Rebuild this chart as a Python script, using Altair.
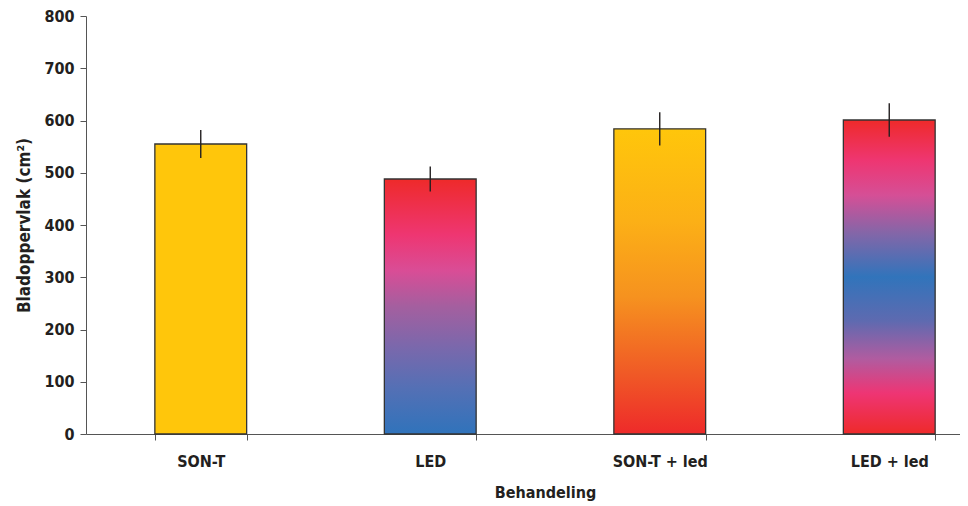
import altair as alt
import pandas as pd

categories = ["SON-T", "LED", "SON-T + led", "LED + led"]
means = [555, 488, 584, 601]
errors = [27, 24, 32, 32]

df = pd.DataFrame({
    "cat": categories,
    "mean": means,
    "lo": [m - e for m, e in zip(means, errors)],
    "hi": [m + e for m, e in zip(means, errors)],
})

FONT = "Liberation Sans Narrow, DejaVu Sans Condensed, Liberation Sans, sans-serif"

def grad(stops):
    return alt.Gradient(
        gradient="linear", x1=0, y1=0, x2=0, y2=1,
        stops=[alt.GradientStop(offset=o, color=c) for o, c in stops],
    )

fills = {
    "SON-T": grad([(0, "#FFC60B"), (1, "#FFC60B")]),
    "LED": grad([(0, "#EE2A2A"), (0.22, "#EE3672"), (0.36, "#D94D96"),
                 (0.5, "#A45F9F"), (0.66, "#7A68AC"), (0.82, "#5470B5"),
                 (1, "#3073BB")]),
    "SON-T + led": grad([(0, "#FFC60B"), (0.3, "#FCB016"), (0.55, "#F6921F"),
                         (0.8, "#F05A26"), (1, "#EE2A2A")]),
    "LED + led": grad([(0, "#EE2A2A"), (0.13, "#EE3672"), (0.24, "#D54F96"),
                       (0.36, "#8466A8"), (0.5, "#3174BB"), (0.64, "#5E6AB0"),
                       (0.76, "#B05CA0"), (0.87, "#EE3574"), (1, "#EE2A2A")]),
}

x = alt.X(
    "cat:N", sort=categories,
    scale=alt.Scale(domain=categories, range=[0, 918], paddingInner=0.6, paddingOuter=0.3),
    axis=alt.Axis(title="Behandeling", labelAngle=0, tickBand="extent", tickSize=6,
                  labelPadding=13, titlePadding=15, domainColor="#555", tickColor="#555",
                  labelFont=FONT, titleFont=FONT, labelFontSize=16, titleFontSize=16,
                  labelFontWeight="bold", titleFontWeight="bold",
                  labelColor="#231F20", titleColor="#231F20"),
)
y = alt.Y(
    "mean:Q",
    scale=alt.Scale(domain=[0, 800], nice=False),
    axis=alt.Axis(title="Bladoppervlak (cm²)", values=list(range(0, 801, 100)), grid=False,
                  tickSize=6, labelPadding=6, titlePadding=10,
                  domainColor="#555", tickColor="#555",
                  labelFont=FONT, titleFont=FONT, labelFontSize=16, titleFontSize=17,
                  labelFontWeight="bold", titleFontWeight="bold",
                  labelColor="#231F20", titleColor="#231F20"),
)

base = alt.Chart(df)
layers = []
for c in categories:
    layers.append(
        base.transform_filter(alt.datum.cat == c)
        .mark_bar(fill=fills[c], stroke="#333333", strokeWidth=1.3)
        .encode(x=x, y=y)
    )
rules = base.mark_rule(color="#231F20", strokeWidth=1.4).encode(
    x=x, y=alt.Y("lo:Q"), y2="hi:Q"
)

chart = alt.layer(*layers, rules).properties(
    width=874, height=418,
    autosize=alt.AutoSizeParams(type="none"),
    padding={"left": 78, "top": 8, "right": 0, "bottom": 72},
).configure_view(stroke=None)

chart.save("out.html", embed_options={"renderer": "svg", "actions": False})
